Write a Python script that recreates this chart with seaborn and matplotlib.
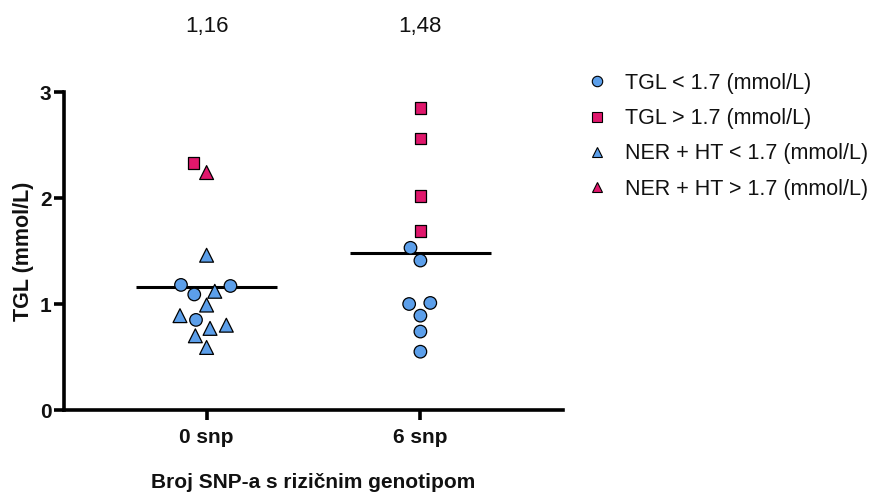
import numpy as np
import pandas as pd
import matplotlib
matplotlib.use("Agg")
import matplotlib.pyplot as plt
import seaborn as sns
from matplotlib.markers import MarkerStyle
from matplotlib.lines import Line2D

# ---- data ----
groups = ["0 snp", "6 snp"]
categories = ["TGL < 1.7 (mmol/L)", "TGL > 1.7 (mmol/L)",
              "NER + HT < 1.7 (mmol/L)", "NER + HT > 1.7 (mmol/L)"]

g0_tgl_low = [1.17, 1.18, 1.09, 0.85]
g0_tgl_high = [2.33]
g0_ner_low = [1.46, 1.12, 0.99, 0.89, 0.77, 0.80, 0.70, 0.59]
g0_ner_high = [2.24]

g6_tgl_low = [1.53, 1.41, 1.01, 1.00, 0.89, 0.74, 0.55]
g6_tgl_high = [2.85, 2.56, 2.02, 1.69]
g6_ner_low = []
g6_ner_high = []

x_label = "Broj SNP-a s rizičnim genotipom"
y_label = "TGL (mmol/L)"
y_ticks = [0, 1, 2, 3]

# ---- styles ----
BLUE = "#5C9FEA"
PINK = "#E0176C"
cat_color = {categories[0]: BLUE, categories[1]: PINK,
             categories[2]: BLUE, categories[3]: PINK}
cat_marker = {categories[0]: "o", categories[1]: "s",
              categories[2]: "^", categories[3]: "^"}

rows = []
for g, lists in zip(groups, [[g0_tgl_low, g0_tgl_high, g0_ner_low, g0_ner_high],
                             [g6_tgl_low, g6_tgl_high, g6_ner_low, g6_ner_high]]):
    for c, vals in zip(categories, lists):
        for v in vals:
            rows.append({"group": g, "cat": c, "value": v})
df = pd.DataFrame(rows)

sns.set_theme(style="white")
plt.rcParams["font.family"] = ["Liberation Sans", "DejaVu Sans"]

fig = plt.figure(figsize=(8.75, 4.92), dpi=100)
ax = fig.add_axes([64 / 875, 1 - 410 / 492, (563 - 64) / 875, (410 - 92) / 492])

# swarm layout computed with slightly larger size for wider spacing
sns.swarmplot(data=df, x="group", y="value", hue="cat", hue_order=categories,
              palette=cat_color, order=groups, size=10.5, linewidth=0.9,
              edgecolor="black", legend=False, ax=ax, warn_thresh=1.0)

def marker_path(m, sc):
    ms = MarkerStyle(m)
    p = ms.get_path().transformed(ms.get_transform())
    return p.transformed(matplotlib.transforms.Affine2D().scale(sc))

# assign marker shape per point
for coll in ax.collections:
    offs = coll.get_offsets()
    if len(offs) == 0:
        continue
    paths = []
    for x, y in offs:
        gi = int(round(x))
        sub = df[(df.group == groups[gi])]
        idx = (sub.value - y).abs().idxmin()
        m = cat_marker[df.loc[idx, "cat"]]
        sc = {"s": 0.78, "^": 0.95, "o": 0.86}[m]
        paths.append(marker_path(m, sc))
    coll.set_paths(paths)
    coll.set_zorder(3)

# mean lines
means = df.groupby("group")["value"].mean().reindex(groups)
xpos = np.arange(len(groups))
ax.hlines(means.values, xpos - 0.33, xpos + 0.33, color="black", lw=2.2, zorder=2)
for xi, m in zip(xpos, means.values):
    ax.text(xi, 3.62, f"{m:.2f}".replace(".", ","), ha="center", va="center",
            fontsize=16, color="#111111", clip_on=False)

ax.set_ylim(0, 3)
ax.set_yticks(y_ticks)
ax.set_xlim(-0.667, 1.667)
ax.set_xlabel(x_label, fontsize=15, fontweight="bold", labelpad=19, color="#111111")
ax.set_ylabel(y_label, fontsize=15.5, fontweight="bold", labelpad=4, color="#111111")
sns.despine(ax=ax)
for s in ["left", "bottom"]:
    ax.spines[s].set_linewidth(2.6)
    ax.spines[s].set_color("black")
ax.tick_params(axis="both", direction="out", length=7, width=2.6, colors="black",
               labelsize=15, left=True, bottom=True)
ax.tick_params(axis="y", pad=2)
ax.tick_params(axis="x", pad=6)
for lbl in ax.get_xticklabels() + ax.get_yticklabels():
    lbl.set_fontweight("bold")
    lbl.set_color("#111111")

handles = [Line2D([], [], ls="", marker=cat_marker[c], markerfacecolor=cat_color[c],
                  markeredgecolor="black", markeredgewidth=0.8, markersize=7.5)
           for c in categories]
fig.legend(handles, categories, loc="upper left", bbox_to_anchor=(586 / 875, 1 - 73 / 492),
           frameon=False, fontsize=15.5, handlelength=1.0, handletextpad=0.8,
           labelspacing=0.66, borderpad=0, borderaxespad=0, labelcolor="#111111")

fig.savefig("out.png", dpi=100, facecolor="white")
